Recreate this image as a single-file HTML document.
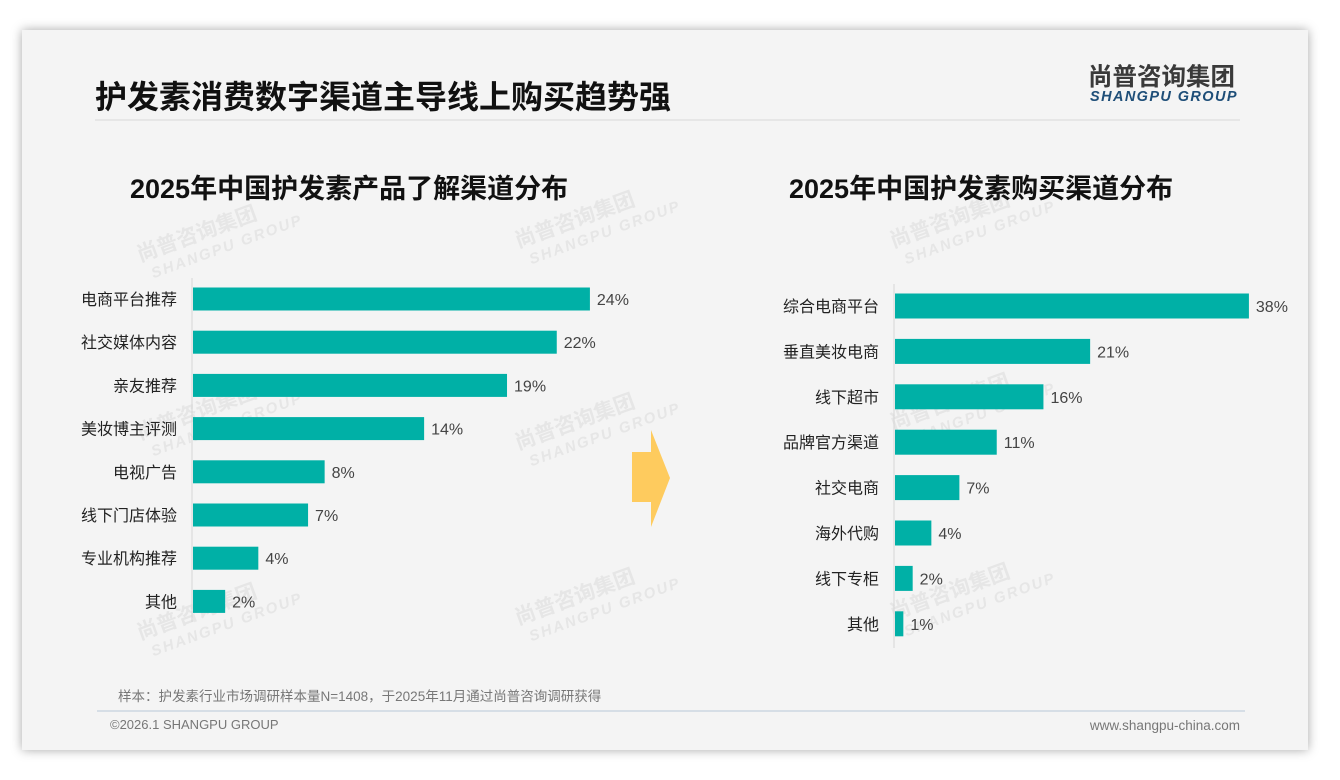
<!DOCTYPE html>
<html><head><meta charset="utf-8">
<style>
body{margin:0;width:1340px;height:780px;background:#fff;overflow:hidden;font-family:"Liberation Sans","Noto Sans CJK SC",sans-serif;}
#card{position:absolute;left:22px;top:30px;width:1286px;height:720px;background:#f4f4f4;box-shadow:0 0 10px rgba(0,0,0,0.35);}
svg text{font-family:"Liberation Sans","Noto Sans CJK SC",sans-serif;}
</style></head>
<body>
<div id="card"></div>
<svg id="chart" width="1340" height="780" style="position:absolute;left:0;top:0">
  <g id="wm"></g>
  <text x="95" y="108" font-size="32" font-weight="bold" fill="#111">护发素消费数字渠道主导线上购买趋势强</text>
  <line x1="95" y1="120" x2="1240" y2="120" stroke="#e2e2e2" stroke-width="1.5"/>
  <text x="1088" y="85" font-size="24.5" font-weight="bold" fill="#3a3a3a">尚普咨询集团</text>
  <text x="1090" y="101" font-size="14.5" font-weight="bold" font-style="italic" fill="#1e4e78" letter-spacing="1.4">SHANGPU GROUP</text>
  <text x="130" y="198" font-size="27" font-weight="bold" fill="#111">2025年中国护发素产品了解渠道分布</text>
  <text x="789" y="198" font-size="27" font-weight="bold" fill="#111">2025年中国护发素购买渠道分布</text>
  <polygon points="632,452 651,452 651,430 670,478 651,527 651,502 632,502" fill="#fecb5e"/>
  <g id="left"></g>
  <g id="right"></g>
  <text x="118" y="701" font-size="13.5" fill="#777">样本：护发素行业市场调研样本量N=1408，于2025年11月通过尚普咨询调研获得</text>
  <line x1="97" y1="711" x2="1245" y2="711" stroke="#b8c8d8" stroke-width="1"/>
  <text x="110" y="729" font-size="13" fill="#777">©2026.1 SHANGPU GROUP</text>
  <text x="1240" y="730" font-size="13.5" fill="#777" text-anchor="end">www.shangpu-china.com</text>
</svg>
<script>
const leftCategories=["电商平台推荐","社交媒体内容","亲友推荐","美妆博主评测","电视广告","线下门店体验","专业机构推荐","其他"];
const leftValues=[24,22,19,14,8,7,4,2];
const rightCategories=["综合电商平台","垂直美妆电商","线下超市","品牌官方渠道","社交电商","海外代购","线下专柜","其他"];
const rightValues=[38,21,16,11,7,4,2,1];
const NS="http://www.w3.org/2000/svg";
function mk(t,a,p){const e=document.createElementNS(NS,t);for(const k in a)e.setAttribute(k,a[k]);p.appendChild(e);return e;}
const wmg=document.getElementById('wm');
[[140,262],[518,248],[893,248],[140,440],[518,450],[893,430],[140,640],[518,625],[893,620]].forEach(p=>{
  const t=mk('text',{x:p[0],y:p[1],'font-size':21,'font-weight':'bold',fill:'#e6e6e6',transform:`rotate(-20 ${p[0]} ${p[1]})`},wmg);
  t.textContent='尚普咨询集团';
  
  
  const e=mk('text',{x:p[0]+7,y:p[1]+20,'font-size':15,'font-weight':'bold','font-style':'italic',fill:'#e6e6e6','letter-spacing':2,transform:`rotate(-20 ${p[0]} ${p[1]})`},wmg);
  e.textContent='SHANGPU GROUP';
  
  
});
function draw(gid,cats,vals,o){
  const g=document.getElementById(gid);
  const x=v=>o.x0+v*o.pxPer;
  const y=i=>o.y0+i*o.step;
  const ax=mk('line',{x1:o.x0,y1:o.axTop,x2:o.x0,y2:o.axBot,stroke:'#d6d6d6','stroke-width':1},g);
  
  
  cats.forEach((c,i)=>{
    const cy=y(i);
    const r=mk('rect',{x:o.x0+1,y:cy-o.h/2,width:x(vals[i])-o.x0-1,height:o.h,fill:'#00b0a6'},g);
    
    
    const l=mk('text',{x:o.x0-15,y:cy+6,'font-size':16,fill:'#222','text-anchor':'end'},g);
    l.textContent=c;
    
    
    const v=mk('text',{x:x(vals[i])+7,y:cy+6,'font-size':16,fill:'#444'},g);
    v.textContent=vals[i]+'%';
    
    
  });
}
draw('left',leftCategories,leftValues,{x0:192,pxPer:16.58,y0:299,step:43.2,h:23,axTop:278,axBot:622});
draw('right',rightCategories,rightValues,{x0:894,pxPer:9.34,y0:306,step:45.4,h:25,axTop:284,axBot:648});
</script>
</body></html>
